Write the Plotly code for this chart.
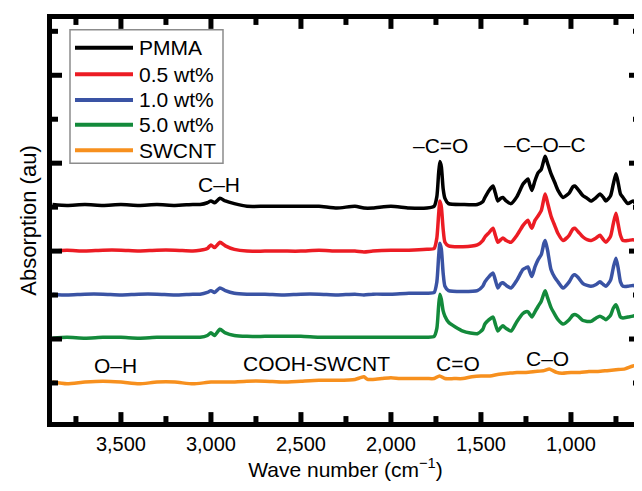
import plotly.graph_objects as go

# ---------------- data ----------------
wavenumber = [3880, 3800, 3700, 3600, 3500, 3400, 3300, 3200, 3100, 3060, 3020, 3000, 2980, 2950, 2920,
              2870, 2800, 2700, 2600, 2500, 2400, 2300, 2200, 2150, 2100, 2000, 1900, 1800, 1760, 1745,
              1735, 1728, 1720, 1710, 1700, 1680, 1600, 1520, 1490, 1478, 1455, 1433, 1420, 1406, 1390,
              1378, 1360, 1333, 1300, 1267, 1250, 1239, 1228, 1217, 1200, 1183, 1165, 1150, 1143, 1130,
              1111, 1090, 1072, 1044, 1010, 990, 978, 960, 933, 910, 889, 860, 839, 820, 806,
              780, 765, 750, 738, 725, 711, 683, 656, 640, 622]

pmma = [2.53, 2.52, 2.53, 2.52, 2.53, 2.52, 2.53, 2.52, 2.53, 2.53, 2.55, 2.57, 2.55, 2.60, 2.57,
        2.54, 2.51, 2.51, 2.51, 2.51, 2.51, 2.49, 2.51, 2.49, 2.49, 2.51, 2.49, 2.49, 2.51, 2.62,
        2.89, 3.02, 2.96, 2.71, 2.60, 2.54, 2.53, 2.53, 2.56, 2.61, 2.69, 2.74, 2.66, 2.57, 2.60,
        2.61, 2.57, 2.54, 2.62, 2.76, 2.80, 2.82, 2.75, 2.69, 2.80, 2.89, 2.93, 3.04, 3.08, 3.00,
        2.88, 2.78, 2.69, 2.61, 2.66, 2.73, 2.74, 2.70, 2.63, 2.60, 2.57, 2.61, 2.65, 2.61, 2.57,
        2.63, 2.76, 2.88, 2.78, 2.65, 2.61, 2.54, 2.57, 2.54, 2.49]

wt05 = [2.00, 2.01, 2.00, 2.01, 2.01, 2.00, 2.01, 2.01, 2.00, 2.01, 2.03, 2.07, 2.04, 2.10, 2.06,
        2.02, 2.00, 2.00, 2.00, 2.00, 2.01, 2.00, 2.00, 1.99, 2.00, 2.01, 2.01, 2.02, 2.03, 2.15,
        2.42, 2.57, 2.50, 2.25, 2.10, 2.06, 2.05, 2.07, 2.12, 2.16, 2.21, 2.26, 2.18, 2.10, 2.13,
        2.15, 2.12, 2.10, 2.18, 2.29, 2.33, 2.35, 2.30, 2.26, 2.35, 2.40, 2.46, 2.60, 2.65, 2.55,
        2.40, 2.29, 2.20, 2.12, 2.18, 2.25, 2.26, 2.22, 2.16, 2.13, 2.12, 2.15, 2.18, 2.13, 2.10,
        2.17, 2.31, 2.43, 2.31, 2.18, 2.12, 2.12, 2.13, 2.12, 2.11]

wt10 = [1.51, 1.50, 1.51, 1.51, 1.50, 1.51, 1.51, 1.50, 1.51, 1.51, 1.53, 1.55, 1.53, 1.58, 1.55,
        1.52, 1.51, 1.51, 1.50, 1.51, 1.51, 1.50, 1.51, 1.50, 1.51, 1.51, 1.52, 1.52, 1.53, 1.65,
        1.94, 2.09, 2.02, 1.75, 1.60, 1.55, 1.54, 1.55, 1.60, 1.65, 1.71, 1.75, 1.67, 1.58, 1.63,
        1.64, 1.61, 1.58, 1.67, 1.79, 1.81, 1.82, 1.76, 1.71, 1.82, 1.90, 1.96, 2.09, 2.12, 2.01,
        1.79, 1.70, 1.65, 1.58, 1.65, 1.72, 1.73, 1.70, 1.63, 1.61, 1.60, 1.62, 1.65, 1.62, 1.60,
        1.67, 1.81, 1.92, 1.81, 1.65, 1.60, 1.60, 1.61, 1.60, 1.57]

wt50 = [1.01, 1.02, 1.01, 1.02, 1.02, 1.01, 1.02, 1.02, 1.02, 1.02, 1.04, 1.07, 1.04, 1.11, 1.07,
        1.04, 1.03, 1.03, 1.03, 1.03, 1.02, 1.02, 1.02, 1.02, 1.02, 1.02, 1.02, 1.02, 1.03, 1.12,
        1.38, 1.51, 1.45, 1.32, 1.26, 1.19, 1.09, 1.06, 1.11, 1.17, 1.22, 1.25, 1.17, 1.09, 1.13,
        1.15, 1.12, 1.09, 1.20, 1.29, 1.31, 1.31, 1.28, 1.25, 1.31, 1.37, 1.43, 1.52, 1.55, 1.47,
        1.36, 1.28, 1.22, 1.17, 1.22, 1.27, 1.28, 1.26, 1.21, 1.20, 1.20, 1.24, 1.26, 1.24, 1.22,
        1.27, 1.35, 1.39, 1.33, 1.25, 1.24, 1.25, 1.26, 1.27, 1.28]

wavenumber_swcnt = [3880, 3800, 3700, 3600, 3500, 3400, 3300, 3200, 3100, 3000, 2900, 2800, 2700, 2600,
                    2500, 2400, 2300, 2200, 2170, 2150, 2130, 2100, 2050, 2000, 1950, 1900, 1850, 1800,
                    1760, 1730, 1700, 1650, 1600, 1550, 1500, 1450, 1400, 1350, 1300, 1250, 1200, 1150,
                    1120, 1100, 1080, 1050, 1000, 950, 900, 850, 800, 750, 700, 660, 640, 622]
swcnt = [0.51, 0.49, 0.51, 0.52, 0.51, 0.49, 0.51, 0.51, 0.49, 0.51, 0.51, 0.52, 0.52, 0.51,
         0.52, 0.53, 0.53, 0.54, 0.56, 0.57, 0.54, 0.54, 0.55, 0.56, 0.55, 0.55, 0.55, 0.55,
         0.55, 0.58, 0.55, 0.55, 0.55, 0.57, 0.58, 0.58, 0.60, 0.61, 0.62, 0.62, 0.63, 0.64,
         0.66, 0.64, 0.62, 0.61, 0.62, 0.62, 0.63, 0.63, 0.64, 0.65, 0.66, 0.69, 0.70, 0.71]

series_names = ["PMMA", "0.5 wt%", "1.0 wt%", "5.0 wt%", "SWCNT"]
series_colors = ["#000000", "#ec1c24", "#3a53a4", "#138a3b", "#f7901e"]

x_major_ticks = [3500, 3000, 2500, 2000, 1500, 1000]
x_major_labels = ["3,500", "3,000", "2,500", "2,000", "1,500", "1,000"]
x_minor_ticks = [3750, 3250, 2750, 2250, 1750, 1250, 750]
y_major_ticks = [1, 2, 3, 4]
y_minor_ticks = [0.5, 1.5, 2.5, 3.5, 4.5]

annotation_text = ["C–H", "–C=O", "–C–O–C", "O–H", "COOH-SWCNT", "C=O", "C–O"]
annotation_x = [2956, 1722, 1144, 3528, 2411, 1628, 1128]
annotation_y = [2.76, 3.20, 3.21, 0.70, 0.72, 0.72, 0.78]

# ---------------- figure ----------------
FONT = "Liberation Sans, Arial, sans-serif"
W, H = 642, 491
ML, MR, MT, MB = 44, 11, 6, 77
PW, PH = W - ML - MR, H - MT - MB
X_RANGE = [3883, 622]
Y_RANGE = [0.056, 4.64]
MAJOR_LEN, MINOR_LEN, TICK_W = 10, 6, 5


def px_x(p):
    return (p - ML) / PW


def px_y(p):
    return (H - MB - p) / PH


fig = go.Figure()
ys = [pmma, wt05, wt10, wt50]
for name, col, y in zip(series_names[:4], series_colors[:4], ys):
    fig.add_trace(go.Scatter(x=wavenumber, y=y, mode="lines", name=name,
                             line=dict(color=col, width=3.5, shape="spline", smoothing=0.6),
                             showlegend=False))
fig.add_trace(go.Scatter(x=wavenumber_swcnt, y=swcnt, mode="lines", name=series_names[4],
                         line=dict(color=series_colors[4], width=3.5, shape="spline", smoothing=0.6),
                         showlegend=False))

for t, ax, ay in zip(annotation_text, annotation_x, annotation_y):
    fig.add_annotation(x=ax, y=ay, xref="x", yref="y", text=t, showarrow=False,
                       font=dict(family=FONT, size=21, color="black"),
                       xanchor="center", yanchor="middle")

shapes = []
# inward tick marks on all four sides, placed at the axis tick values
for vals, ln in ((x_major_ticks, MAJOR_LEN), (x_minor_ticks, MINOR_LEN)):
    for v in vals:
        for y0, y1 in ((0, ln / PH), (1, 1 - ln / PH)):
            shapes.append(dict(type="line", xref="x", yref="paper", x0=v, x1=v, y0=y0, y1=y1,
                               line=dict(color="black", width=TICK_W), layer="above"))
for vals, ln in ((y_major_ticks, MAJOR_LEN), (y_minor_ticks, MINOR_LEN)):
    for v in vals:
        for x0, x1 in ((0, ln / PW), (1, 1 - ln / PW)):
            shapes.append(dict(type="line", xref="paper", yref="y", x0=x0, x1=x1, y0=v, y1=v,
                               line=dict(color="black", width=TICK_W), layer="above"))

# legend box with long line samples as in the reference
shapes.append(dict(type="rect", xref="paper", yref="paper",
                   x0=px_x(62), x1=px_x(215), y0=px_y(152), y1=px_y(17),
                   line=dict(color="#8c8c8c", width=1.5), fillcolor="white", layer="above"))
leg_rows = [35, 62, 88, 113, 139]
for name, col, r in zip(series_names, series_colors, leg_rows):
    shapes.append(dict(type="line", xref="paper", yref="paper",
                       x0=px_x(67), x1=px_x(125), y0=px_y(r), y1=px_y(r),
                       line=dict(color=col, width=4), layer="above"))
    fig.add_annotation(x=px_x(129), y=px_y(r), xref="paper", yref="paper", text=name,
                       showarrow=False, xanchor="left", yanchor="middle",
                       font=dict(family=FONT, size=21, color="black"))

fig.update_layout(
    width=W, height=H,
    margin=dict(l=ML, r=MR, t=MT, b=MB),
    paper_bgcolor="white", plot_bgcolor="white",
    shapes=shapes,
    font=dict(family=FONT, size=20, color="black"),
    xaxis=dict(range=X_RANGE, tickmode="array", tickvals=x_major_ticks, ticktext=x_major_labels,
               ticks="", showline=True, linewidth=5, linecolor="black", mirror=True,
               showgrid=False, zeroline=False,
               tickfont=dict(family=FONT, size=20),
               title=dict(text="Wave number (cm<sup>−1</sup>)", font=dict(family=FONT, size=21), standoff=10)),
    yaxis=dict(range=Y_RANGE, tickmode="array", tickvals=y_major_ticks, showticklabels=False,
               ticks="", showline=True, linewidth=5, linecolor="black", mirror=True,
               showgrid=False, zeroline=False,
               title=dict(text="Absorption (au)", font=dict(family=FONT, size=22), standoff=6)),
)

fig.write_html("out.html")
